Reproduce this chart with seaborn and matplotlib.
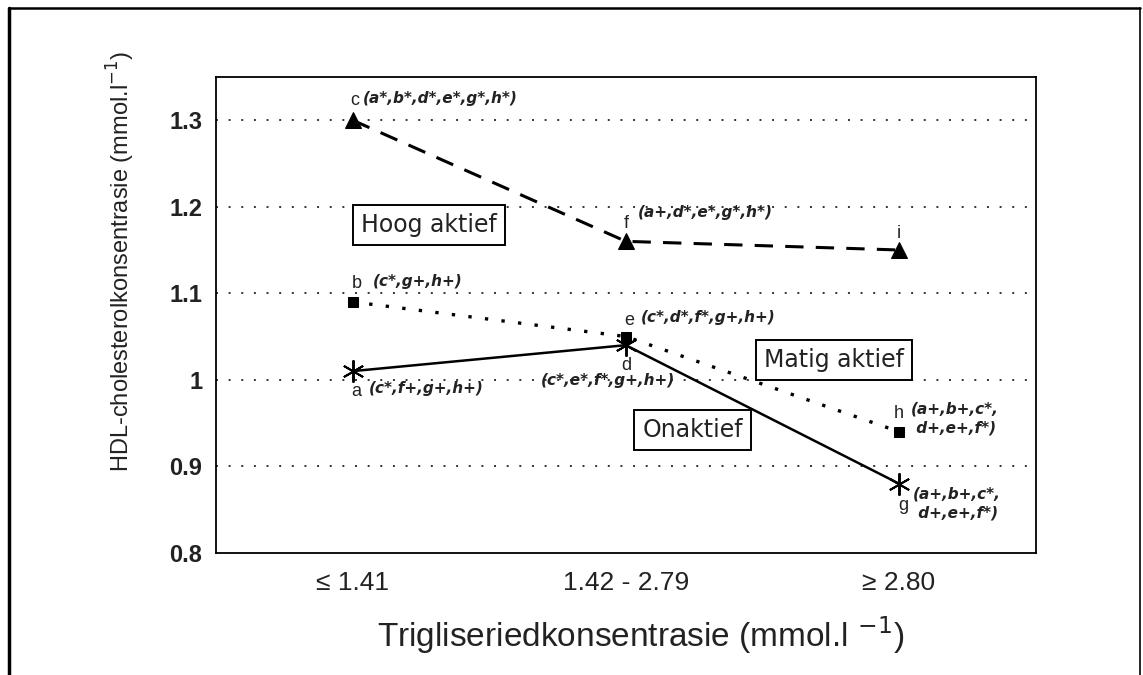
import matplotlib
matplotlib.use("Agg")
import matplotlib.pyplot as plt
import seaborn as sns
from matplotlib.lines import Line2D

# categories on the x axis
categories = ["≤ 1.41", "1.42 - 2.79", "≥ 2.80"]

# HDL cholesterol per activity group
hoog = [1.30, 1.16, 1.15]
matig = [1.09, 1.05, 0.94]
onaktief = [1.01, 1.04, 0.88]

# point letters and significance notes
hoog_letters = ["c", "f", "i"]
hoog_notes = ["(a*,b*,d*,e*,g*,h*)", "(a+,d*,e*,g*,h*)", ""]
matig_letters = ["b", "e", "h"]
matig_notes = ["(c*,g+,h+)", "(c*,d*,f*,g+,h+)", "(a+,b+,c*,\n d+,e+,f*)"]
onak_letters = ["a", "d", "g"]
onak_notes = ["(c*,f+,g+,h+)", "(c*,e*,f*,g+,h+)", "(a+,b+,c*,\n d+,e+,f*)"]

yticks = [0.8, 0.9, 1.0, 1.1, 1.2, 1.3]
ytick_labels = ["0.8", "0.9", "1", "1.1", "1.2", "1.3"]

sns.set_style("white")
plt.rcParams["font.family"] = ["Liberation Sans", "DejaVu Sans"]

fig = plt.figure(figsize=(11.43, 6.75), dpi=100)
ax = fig.add_axes([0.189, 0.181, 0.717, 0.705])

xs = list(range(len(categories)))

sns.lineplot(x=xs, y=hoog, ax=ax, color="black", linestyle=(0, (6, 4)), lw=2.2,
             marker="^", markersize=12, markeredgecolor="black")
sns.lineplot(x=xs, y=matig, ax=ax, color="black", linestyle=(0, (1, 4)), lw=2.4,
             marker="s", markersize=7, markeredgecolor="black")
sns.lineplot(x=xs, y=onaktief, ax=ax, color="black", linestyle="-", lw=1.8,
             marker=(6, 2, 0), markersize=16, markeredgewidth=1.4, markeredgecolor="black")

ax.set_xlim(-0.5, 2.5)
ax.set_ylim(0.8, 1.35)
ax.set_yticks(yticks)
ax.set_yticklabels(ytick_labels, fontsize=17, fontweight="bold", color="#222222")
ax.set_xticks(xs)
ax.set_xticklabels(categories, fontsize=19, color="#222222")
ax.tick_params(axis="y", length=0, pad=10)
ax.tick_params(axis="x", length=0, pad=13)

for y in yticks[1:]:
    ax.axhline(y, color="#333333", linestyle=(0, (1, 5.5)), lw=1.4, zorder=0)

for sp in ax.spines.values():
    sp.set_color("black")
    sp.set_linewidth(1.3)

ax.set_ylabel("HDL-cholesterolkonsentrasie (mmol.l$^{-1}$)", fontsize=17, color="#222222")
ax.yaxis.set_label_coords(-0.097, 0.613)
ax.set_xlabel("Trigliseriedkonsentrasie (mmol.l $^{-1}$)", fontsize=24, color="#222222")
ax.xaxis.set_label_coords(0.518, -0.13)

letter_kw = dict(textcoords="offset pixels", fontsize=13, color="#222222",
                 ha="center", va="center")
note_kw = dict(textcoords="offset pixels", fontsize=11, fontweight="bold", style="italic",
               family="DejaVu Sans", color="#222222", ha="left", va="center", linespacing=1.3)

# offsets (letter, note) in pixels per point
hoog_off = [((2, 20), (10, 22)), ((0, 18), (12, 29)), ((0, 16), (0, 0))]
matig_off = [((4, 18), (20, 20)), ((3, 16), (15, 19)), ((0, 18), (12, 13))]
onak_off = [((4, -20), (16, -17)), ((1, -20), (-85, -35)), ((4, -22), (14, -20))]

groups = [
    (hoog, hoog_letters, hoog_notes, hoog_off),
    (matig, matig_letters, matig_notes, matig_off),
    (onaktief, onak_letters, onak_notes, onak_off),
]
for vals, letters, notes, offs in groups:
    for i, (v, l, n, (lo, no)) in enumerate(zip(vals, letters, notes, offs)):
        ax.annotate(l, (xs[i], v), xytext=lo, **letter_kw)
        if n:
            ax.annotate(n, (xs[i], v), xytext=no, **note_kw)

box = dict(boxstyle="square,pad=0.35", fc="white", ec="black", lw=1.4)
label_kw = dict(fontsize=17, family="DejaVu Sans", ha="center", va="center", bbox=box, color="#222222")
ax.text(0.28, 1.179, "Hoog aktief", **label_kw)
ax.text(1.762, 1.023, "Matig aktief", **label_kw)
ax.text(1.245, 0.942, "Onaktief", **label_kw)

# outer frame of the scanned figure
fig.add_artist(Line2D([0.008, 0.008], [0.0, 0.988], transform=fig.transFigure, color="black", lw=2.5))
fig.add_artist(Line2D([0.008, 0.997], [0.988, 0.988], transform=fig.transFigure, color="black", lw=1.8))
fig.add_artist(Line2D([0.997, 0.997], [0.0, 0.988], transform=fig.transFigure, color="black", lw=1.2))

fig.savefig("out.png", dpi=100, facecolor="white")
